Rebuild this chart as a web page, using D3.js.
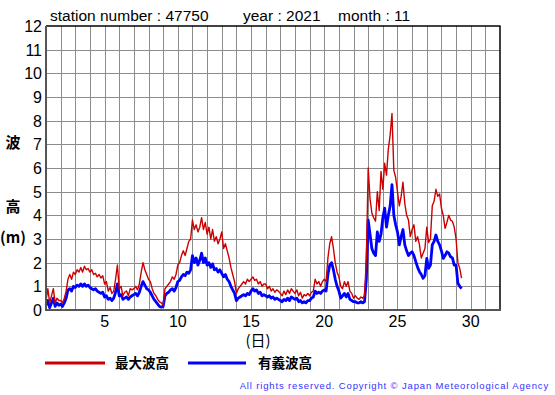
<!DOCTYPE html>
<html lang="ja">
  <head>
    <meta charset="UTF-8" />
    <title>wave height 47750</title>
    <style>
      body { margin: 0; background: #fff; }
      svg text { font-family: "Liberation Sans", Arial, sans-serif; }
      .jp text { font-family: "Noto Sans CJK JP", sans-serif; }
    </style>
  </head>
  <body>
    <svg id="svg" width="555" height="395"></svg>
    <script src="https://d3js.org/d3.v7.min.js"></script>
    <script>
      // 3-hourly readings, one row per day, starting Nov 1 00:00
      const startDay = 1;
      const stepDays = 0.125;
      const maxWave = [
        0.4, 0.9, 0.3, 0.6, 0.9, 0.3, 0.5, 0.4,
        0.4, 0.3, 0.5, 0.8, 1.3, 1.5, 1.3, 1.6,
        1.5, 1.7, 1.6, 1.8, 1.6, 1.85, 1.7, 1.75,
        1.6, 1.7, 1.5, 1.55, 1.4, 1.5, 1.35, 1.45,
        1.1, 1.2, 0.8, 0.95, 0.7, 0.8, 1.3, 1.9,
        0.9, 1.0, 0.6, 0.75, 0.8, 0.6, 0.9, 0.85,
        0.9, 1.0, 0.85, 1.1, 1.6, 2.0, 1.7, 1.5,
        1.3, 1.2, 0.9, 0.7, 0.6, 0.45, 0.35, 0.3,
        0.2, 0.9, 1.0, 1.1, 1.2, 1.4, 1.3, 1.5,
        1.9, 2.0, 2.3, 2.5, 2.3, 2.6, 2.9, 3.0,
        3.8, 3.4, 3.6, 3.3, 3.5, 3.9, 3.4, 3.7,
        3.2, 3.5, 3.0, 3.4, 2.9, 3.1, 2.8, 3.0,
        3.3, 2.6, 2.8, 2.5, 2.2, 1.8, 1.5, 1.2,
        0.7, 0.9, 1.0, 1.1, 1.2, 1.1, 1.3, 1.2,
        1.3, 1.4, 1.25, 1.3, 1.1, 1.2, 1.0, 1.1,
        1.1, 0.9, 1.0, 0.8, 0.9, 0.75, 0.85, 0.8,
        0.7, 0.6, 0.8, 0.65, 0.85, 0.7, 0.9, 0.8,
        0.7, 0.85, 0.6, 0.75, 0.5, 0.65, 0.6, 0.7,
        0.6, 0.75, 0.8, 1.3, 1.1, 1.2, 1.0, 1.2,
        1.3, 1.2, 2.2, 2.8, 3.1, 2.6, 2.0, 1.6,
        1.4, 1.0, 0.9, 1.2, 1.0, 1.2, 0.8, 0.7,
        0.5, 0.6, 0.5, 0.45, 0.55, 0.5, 0.6, 2.2,
        6.0, 4.7, 4.1, 3.9, 3.75, 5.0, 4.2, 5.85,
        5.1, 6.2, 5.7, 6.8, 7.4, 8.3, 5.9, 5.6,
        5.0, 4.4, 4.8, 5.4, 4.5, 4.0, 3.8, 3.1,
        3.4, 3.6, 2.9, 3.1, 2.75, 2.2, 2.4, 2.6,
        3.5, 2.85, 3.0, 4.4, 4.6, 5.1, 4.8, 4.9,
        4.3, 4.0, 3.45, 3.7, 4.0, 3.8, 3.75, 3.5,
        3.0, 2.0, 1.76, 1.35
      ];
      const sigWave = [
        0.2, 0.4, 0.1, 0.3, 0.5, 0.15, 0.3, 0.2,
        0.25, 0.15, 0.3, 0.5, 0.85, 0.9, 0.8, 1.0,
        0.95, 1.05, 1.0, 1.1, 1.0, 1.1, 1.0, 1.05,
        0.95, 0.9, 0.85, 0.9, 0.8, 0.75, 0.7, 0.75,
        0.55, 0.6, 0.45, 0.5, 0.4, 0.5, 0.75, 1.1,
        0.6, 0.65, 0.45, 0.5, 0.55, 0.45, 0.55, 0.6,
        0.65, 0.7, 0.6, 0.75, 1.0, 1.2, 1.05, 0.9,
        0.85, 0.75, 0.6, 0.45, 0.35, 0.25, 0.15, 0.12,
        0.15, 0.6, 0.7, 0.75, 0.85, 0.9, 0.8, 0.95,
        1.2, 1.25, 1.4, 1.5, 1.45, 1.6, 1.55, 1.7,
        2.3, 2.0, 2.2, 1.9, 2.1, 2.4, 2.0, 2.2,
        1.9, 2.0, 1.8, 1.95, 1.7, 1.75, 1.6, 1.7,
        1.55, 1.4, 1.5, 1.3, 1.2, 1.0, 0.85, 0.7,
        0.4, 0.5, 0.55, 0.6, 0.65, 0.6, 0.7, 0.65,
        0.8, 0.9, 0.8, 0.85, 0.7, 0.75, 0.6, 0.65,
        0.6, 0.55, 0.6, 0.5, 0.55, 0.45, 0.5, 0.45,
        0.4, 0.35, 0.45, 0.4, 0.5, 0.4, 0.55, 0.5,
        0.45, 0.5, 0.35, 0.4, 0.3, 0.35, 0.3, 0.4,
        0.4, 0.5, 0.55, 0.8, 0.7, 0.75, 0.7, 0.8,
        0.85, 0.8, 1.5, 1.9, 2.0, 1.7, 1.3, 1.0,
        0.8, 0.5, 0.6, 0.7, 0.55, 0.7, 0.45, 0.4,
        0.35, 0.35, 0.3, 0.3, 0.35, 0.3, 0.35, 1.3,
        3.8, 3.2, 2.6, 2.4, 2.3, 3.3, 2.9, 3.2,
        3.9, 4.3, 3.5, 4.0, 4.4, 5.3, 4.0, 3.6,
        3.3, 2.75, 3.1, 3.4, 2.75, 2.5, 2.3, 2.4,
        2.46, 2.3, 2.04, 1.8, 1.62, 1.5, 1.34, 1.45,
        2.18, 1.76, 1.9, 2.75, 2.9, 3.17, 2.9, 2.75,
        2.5, 2.18, 2.3, 2.46, 2.4, 2.25, 2.2, 1.9,
        1.9, 1.13, 1.0, 0.9
      ];
      const xTicks = [5, 10, 15, 20, 25, 30];
      const yTicks = d3.range(0, 13);

      const svg = d3.select("#svg");
      const plotL = 46, plotR = 500, plotT = 26, plotB = 310;

      const x = d3.scaleLinear().domain([1, 32]).range([plotL, plotR]);
      const y = d3.scaleLinear().domain([0, 12]).range([plotB, plotT]);

      // grid
      svg.append("g")
        .selectAll("line")
        .data(d3.range(2, 32))
        .join("line")
        .attr("x1", (d) => Math.round(x(d)) + 0.5).attr("x2", (d) => Math.round(x(d)) + 0.5)
        .attr("y1", plotT).attr("y2", plotB)
        .attr("stroke", "#8c8c8c").attr("stroke-width", 1);
      svg.append("g")
        .selectAll("line")
        .data(d3.range(1, 12))
        .join("line")
        .attr("x1", plotL).attr("x2", plotR)
        .attr("y1", (d) => Math.round(y(d)) + 0.5).attr("y2", (d) => Math.round(y(d)) + 0.5)
        .attr("stroke", "#8c8c8c").attr("stroke-width", 1);

      // frame
      svg.append("line").attr("x1", plotL).attr("x2", plotR + 0.5)
        .attr("y1", plotT).attr("y2", plotT).attr("stroke", "#000").attr("stroke-width", 1.5);
      svg.append("line").attr("x1", plotR).attr("x2", plotR)
        .attr("y1", plotT).attr("y2", plotB).attr("stroke", "#000").attr("stroke-width", 1.5);

      // series
      const line = d3.line()
        .x((d, i) => x(startDay + i * stepDays))
        .y((d) => y(d));
      svg.append("path").datum(sigWave).attr("d", line)
        .attr("fill", "none").attr("stroke", "#0000ff").attr("stroke-width", 2.8)
        .attr("stroke-linejoin", "round");
      svg.append("path").datum(maxWave).attr("d", line)
        .attr("fill", "none").attr("stroke", "#cc0000").attr("stroke-width", 1.4)
        .attr("stroke-linejoin", "round");

      svg.append("line").attr("x1", plotL).attr("x2", plotR + 1)
        .attr("y1", plotB).attr("y2", plotB).attr("stroke", "#555").attr("stroke-width", 2);
      svg.append("line").attr("x1", plotL).attr("x2", plotL)
        .attr("y1", plotT).attr("y2", plotB + 1).attr("stroke", "#555").attr("stroke-width", 2);

      // tick labels
      svg.append("g")
        .selectAll("text")
        .data(yTicks)
        .join("text")
        .attr("x", plotL - 4)
        .attr("y", (d) => y(d) + 6)
        .attr("text-anchor", "end")
        .attr("font-size", 16)
        .text((d) => d);
      svg.append("g")
        .selectAll("text")
        .data(xTicks)
        .join("text")
        .attr("x", (d) => x(d))
        .attr("y", 327)
        .attr("text-anchor", "middle")
        .attr("font-size", 16)
        .text((d) => d);

      // titles
      svg.append("text").attr("x", 50).attr("y", 21).attr("font-size", 15.5)
        .text("station number : 47750");
      svg.append("text").attr("x", 243).attr("y", 21).attr("font-size", 15.5)
        .text("year : 2021");
      svg.append("text").attr("x", 338).attr("y", 21).attr("font-size", 15.5)
        .text("month : 11");

      // axis labels
      const jp = svg.append("g").attr("class", "jp").attr("font-weight", "bold");
      jp.append("text").attr("x", 13).attr("y", 148).attr("text-anchor", "middle")
        .attr("font-size", 15).text("波");
      jp.append("text").attr("x", 13).attr("y", 212).attr("text-anchor", "middle")
        .attr("font-size", 15).text("高");
      jp.append("text").attr("x", 13).attr("y", 243).attr("text-anchor", "middle")
        .attr("font-size", 15).text("(m)");
      jp.append("text").attr("x", 258).attr("y", 346).attr("text-anchor", "middle")
        .attr("font-size", 15).attr("font-weight", "normal").text("(日)");

      // legend
      svg.append("line").attr("x1", 45).attr("x2", 105).attr("y1", 363).attr("y2", 363)
        .attr("stroke", "#cc0000").attr("stroke-width", 3);
      jp.append("text").attr("x", 115).attr("y", 368).attr("font-size", 13.5).text("最大波高");
      svg.append("line").attr("x1", 188).attr("x2", 246).attr("y1", 363).attr("y2", 363)
        .attr("stroke", "#0000ff").attr("stroke-width", 3);
      jp.append("text").attr("x", 258).attr("y", 368).attr("font-size", 13.5).text("有義波高");

      svg.append("text").attr("x", 549).attr("y", 389).attr("text-anchor", "end")
        .attr("font-size", 9.5).attr("letter-spacing", 0.85).attr("fill", "#3333ff")
        .text("All rights reserved. Copyright © Japan Meteorological Agency");
    </script>
  </body>
</html>
